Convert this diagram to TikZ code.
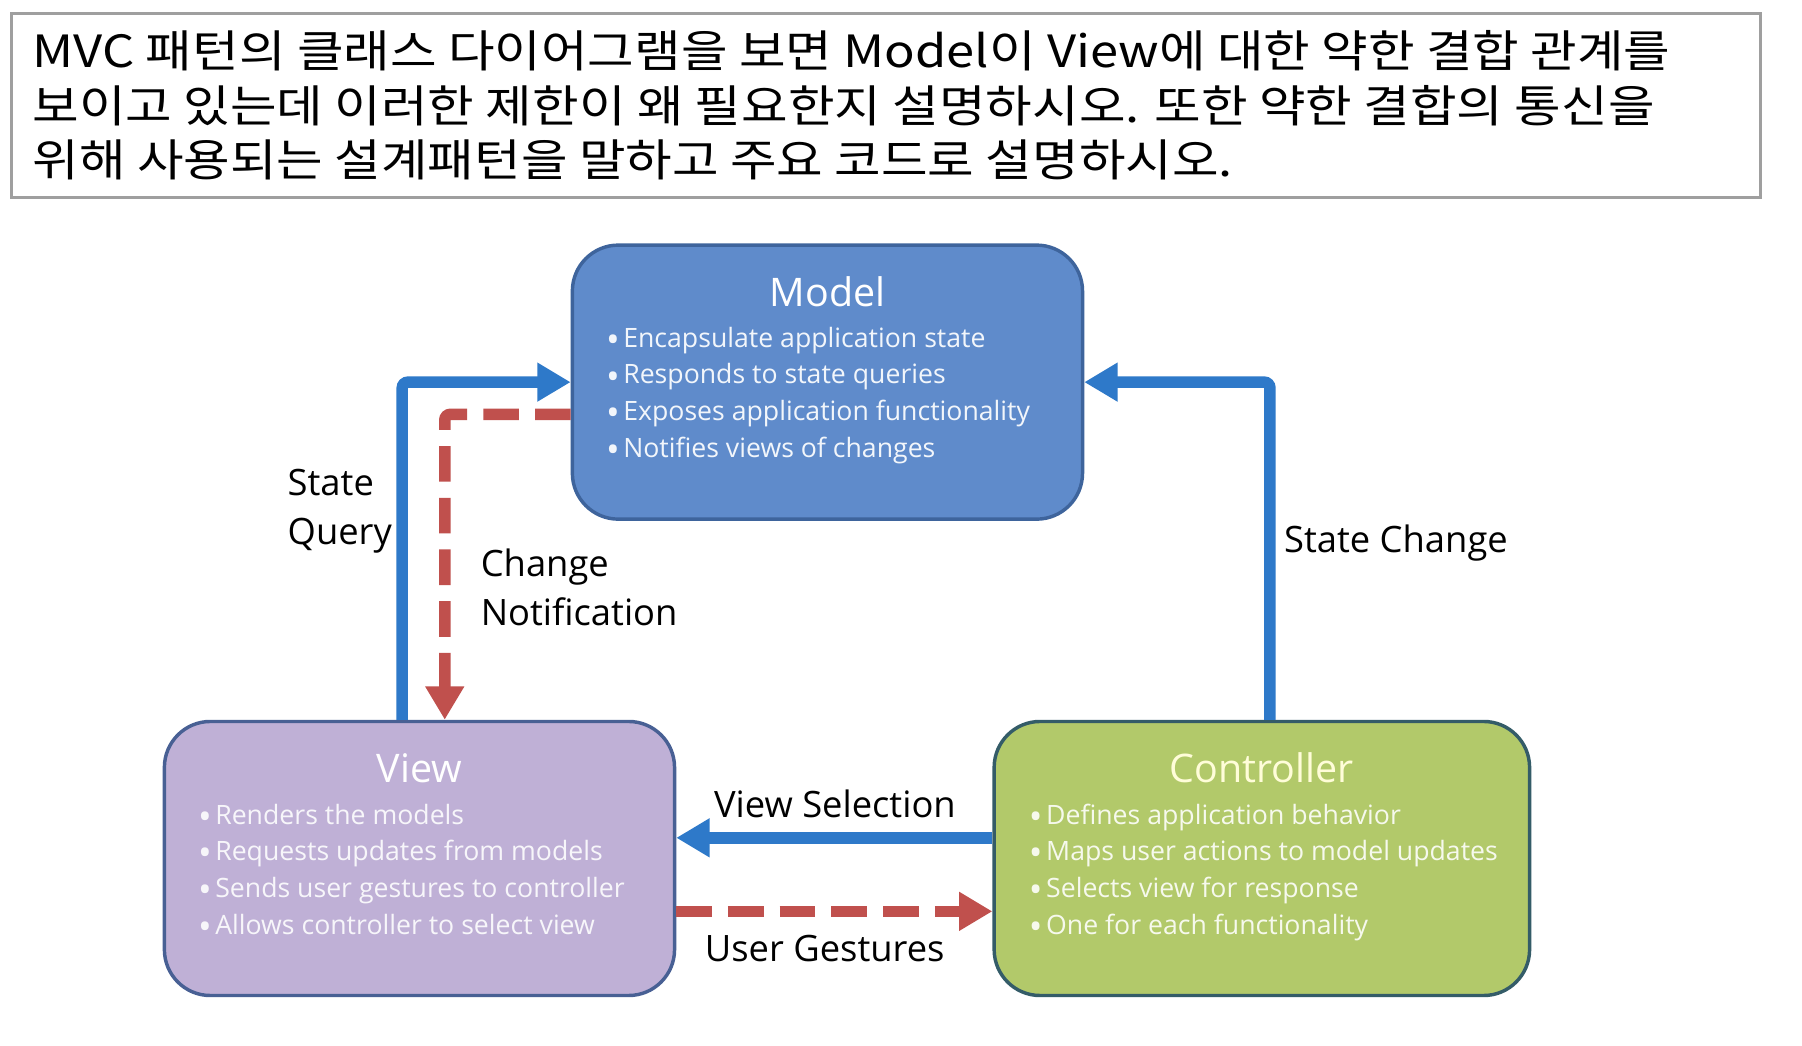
\documentclass[tikz,border=0pt]{standalone}
\usepackage{fontspec}
\setsansfont{Open Sans}
\newfontfamily\krfont[FakeStretch=1.14]{Noto Sans CJK KR}
\usetikzlibrary{arrows.meta}

\definecolor{modelfill}{RGB}{95,139,203}
\definecolor{modelline}{RGB}{62,100,156}
\definecolor{viewfill}{RGB}{191,176,214}
\definecolor{viewline}{RGB}{72,96,148}
\definecolor{ctrlfill}{RGB}{178,201,106}
\definecolor{ctrlline}{RGB}{52,92,104}
\definecolor{flowblue}{RGB}{46,121,201}
\definecolor{flowred}{RGB}{192,80,77}

\newcommand{\bitem}{\makebox[0.3cm][l]{\raisebox{-0.09cm}{\fontsize{18}{18}\selectfont•}}}

\tikzset{
  box/.style={draw, line width=0.06cm, rounded corners=0.8cm, inner sep=0pt,
    minimum height=4.77cm},
  boxtitle/.style={anchor=base, inner sep=0pt,
    font=\sffamily\fontsize{19.5}{23}\selectfont},
  bullets/.style={anchor=base west, inner sep=0pt,
    font=\sffamily\fontsize{13.2}{16}\selectfont},
  flowlabel/.style={anchor=base west, inner sep=0pt,
    font=\sffamily\fontsize{18}{22}\selectfont},
  question/.style={anchor=base west, inner sep=0pt,
    font=\krfont\fontsize{22}{26}\selectfont},
  flow/.style={line width=0.2cm, flowblue, rounded corners=0.1cm,
    -{Triangle[length=0.58cm,width=0.64cm]}},
  notify/.style={line width=0.2cm, flowred, rounded corners=0.1cm,
    dash pattern=on 0.62cm off 0.28cm,
    -{Triangle[length=0.58cm,width=0.64cm]}},
}

\begin{document}
\begin{tikzpicture}[x=0.02cm,y=-0.02cm]
    \useasboundingbox (0,0) rectangle (1568,910);
    \fill [white] (0,0) rectangle (1568,910);
    % question
    \draw [gray!75, line width=0.05cm] (10,12) rectangle (1532,172);
    \node [question] (q1) at (28,59)
      {MVC 패턴의 클래스 다이어그램을 보면 Model이 View에 대한 약한 결합 관계를};
    \node [question] (q2) at (28,107)
      {보이고 있는데 이러한 제한이 왜 필요한지 설명하시오. 또한 약한 결합의 통신을};
    \node [question] (q3) at (28,154)
      {위해 사용되는 설계패턴을 말하고 주요 코드로 설명하시오.};
    % boxes
    \node [box, fill=modelfill, draw=modelline, minimum width=8.88cm]
      (model) at (720,332.5) {};
    \node [box, fill=viewfill, draw=viewline, minimum width=8.88cm]
      (view) at (365,747) {};
    \node [box, fill=ctrlfill, draw=ctrlline, minimum width=9.32cm]
      (ctrl) at (1098,747) {};
    % titles
    \node [boxtitle, text=white] (modeltitle) at (720,267) {Model};
    \node [boxtitle, text=white] (viewtitle) at (365,681) {View};
    \node [boxtitle, text=white!85!yellow] (ctrltitle) at (1098,681) {Controller};
    % model items
    \foreach \txt [count=\i] in {Encapsulate application state,
        Responds to state queries, Exposes application functionality,
        Notifies views of changes}
      \node [bullets, text=white!92!modelfill] (modelitem\i)
        at (527,270+32*\i) {\bitem\txt};
    % view items
    \foreach \txt [count=\i] in {Renders the models,
        Requests updates from models, Sends user gestures to controller,
        Allows controller to select view}
      \node [bullets, text=white!88!viewfill] (viewitem\i)
        at (172,685+32*\i) {\bitem\txt};
    % controller items
    \foreach \txt [count=\i] in {Defines application behavior,
        Maps user actions to model updates, Selects view for response,
        One for each functionality}
      \node [bullets, text=white!88!ctrlfill] (ctrlitem\i)
        at (895,685+32*\i) {\bitem\txt};
    % connectors
    \coordinate (sq) at (350,0);
    \coordinate (cn) at (387,0);
    \coordinate (sc) at (1105,0);
    \draw [flow] (sq |- view.north) |- (model.west);
    \draw [notify] ([yshift=-0.56cm]model.west) -| (cn |- view.north);
    \draw [flow] (sc |- ctrl.north) |- (model.east);
    \draw [flow] ([yshift=0.36cm]ctrl.west) -- ([yshift=0.36cm]view.east);
    \draw [notify] ([yshift=-0.92cm]view.east) -- ([yshift=-0.92cm]ctrl.west);
    % labels
    \node [flowlabel] (sqa) at (250,431) {State};
    \node [flowlabel] (sqb) at (250,474) {Query};
    \node [flowlabel] (cna) at (418,502) {Change};
    \node [flowlabel] (cnb) at (418,544) {Notification};
    \node [flowlabel] (scl) at (1117,481) {State Change};
    \node [flowlabel] (vsl) at (621,711) {View Selection};
    \node [flowlabel] (ugl) at (613,837) {User Gestures};
\end{tikzpicture}
\end{document}
